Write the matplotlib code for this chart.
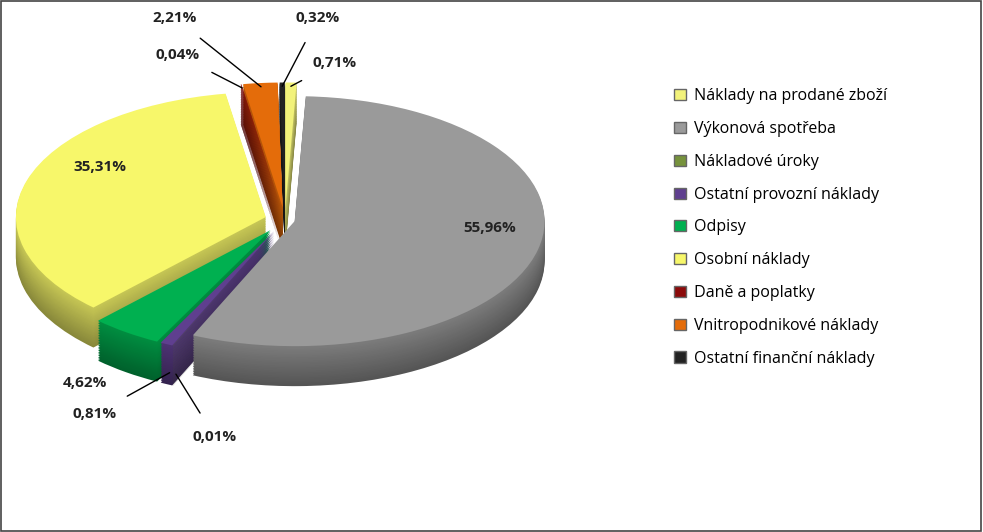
import numpy as np
import matplotlib
matplotlib.use("Agg")
import matplotlib.pyplot as plt
from matplotlib.patches import Patch, Rectangle
from matplotlib.colors import to_rgb

categories = ["Náklady na prodané zboží", "Výkonová spotřeba", "Nákladové úroky",
              "Ostatní provozní náklady", "Odpisy", "Osobní náklady",
              "Daně a poplatky", "Vnitropodnikové náklady", "Ostatní finanční náklady"]
values = [0.71, 55.96, 0.01, 0.81, 4.62, 35.31, 0.04, 2.21, 0.32]
labels = ["0,71%", "55,96%", "0,01%", "0,81%", "4,62%", "35,31%", "0,04%", "2,21%", "0,32%"]
colors = ["#f2f27a", "#9a9a9a", "#76923c", "#5f3f8f", "#00b050", "#f7f76a",
          "#8b0a0a", "#e46c0a", "#222222"]
explode = [0.1, 0.04, 0.1, 0.1, 0.1, 0.08, 0.1, 0.1, 0.1]

plt.rcParams["font.family"] = "Open Sans"
fig = plt.figure(figsize=(9.83, 5.32), dpi=100)
ax = fig.add_axes([0, 0, 0.6, 1])
ax.axis("off")
SX, SY, CX, CY = 250.0, 125.0, 285.0, 220.0

def dark(c, f):
    r, g, b = to_rgb(c)
    return (r * f, g * f, b * f)

depth = 0.32
for i, dy in enumerate(np.linspace(-depth, -0.01, 24)):
    f = 0.55 + 0.25 * i / 23
    ax.pie(values, colors=[dark(c, f) for c in colors], explode=explode,
           startangle=90, counterclock=False, center=(0, dy), radius=1,
           wedgeprops=dict(linewidth=0))
wedges, _ = ax.pie(values, colors=colors, explode=explode, startangle=90,
                   counterclock=False, center=(0, 0), radius=1,
                   wedgeprops=dict(linewidth=0))
ax.set_aspect("auto")
ax.set_xlim(-CX / SX, (590 - CX) / SX)
ax.set_ylim(-(532 - CY) / SY, CY / SY)

def d(px, py):
    return ((px - CX) / SX, (CY - py) / SY)

label_px = [(335, 63), (490, 228), (215, 437), (95, 414), (85, 383),
            (100, 167), (178, 55), (175, 18), (318, 18)]
leader = [True, False, True, True, False, False, True, True, True]
for w, lab, (px, py), ld in zip(wedges, labels, label_px, leader):
    x, y = d(px, py)
    if ld:
        th = np.deg2rad((w.theta1 + w.theta2) / 2)
        cx, cy = w.center
        r = 0.97
        tx, ty = cx + r * np.cos(th), cy + r * np.sin(th)
        if ty < 0:
            ty -= depth * 0.8
        ax.annotate(lab, xy=(tx, ty), xytext=(x, y), ha="center", va="center",
                    fontsize=11, fontweight="bold", color="#222",
                    arrowprops=dict(arrowstyle="-", color="black", lw=1,
                                    shrinkA=12, shrinkB=0))
    else:
        ax.text(x, y, lab, ha="center", va="center", fontsize=11,
                fontweight="bold", color="#222")

handles = [Patch(facecolor=c, edgecolor="#666", label=n) for c, n in zip(colors, categories)]
fig.legend(handles=handles, loc="upper left", bbox_to_anchor=(660 / 983, 1 - 74 / 532),
           frameon=False, fontsize=11.5, labelspacing=1.05, handlelength=0.7,
           handleheight=0.7, handletextpad=0.5)
fig.add_artist(Rectangle((0.001, 0.002), 0.997, 0.996, transform=fig.transFigure,
                         fill=False, edgecolor="#444", lw=1.2))
fig.savefig("out.png", dpi=100)
